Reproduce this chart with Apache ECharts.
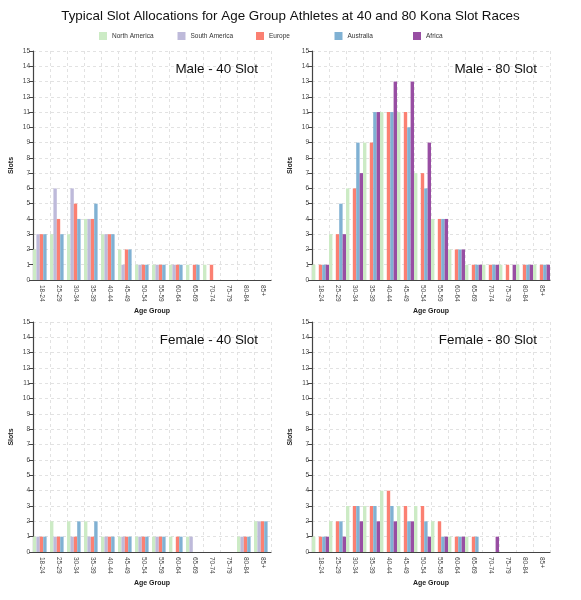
<!DOCTYPE html>
<html><head><meta charset="utf-8">
<script src="https://cdn.jsdelivr.net/npm/echarts@6/dist/echarts.min.js"></script>
<style>html,body{margin:0;padding:0;background:#fff}#c{width:581px;height:600px}</style>
</head><body><div id="c"></div><script>
const ageGroups = ['18-24','25-29','30-34','35-39','40-44','45-49','50-54','55-59','60-64','65-69','70-74','75-79','80-84','85+'];
const regions = ['North America','South America','Europe','Australia','Africa'];
const regionColors = ['#ccebc5','#bebada','#fb8072','#80b1d3','#984ea3'];
const panelTitles = ['Male - 40 Slot','Male - 80 Slot','Female - 40 Slot','Female - 80 Slot'];
const mainTitle = 'Typical Slot Allocations for Age Group Athletes at 40 and 80 Kona Slot Races';

const male40NorthAmerica = [2,3,3,4,3,2,1,1,1,1,1,0,0,0];
const male40SouthAmerica = [3,6,6,4,3,1,1,1,1,0,0,0,0,0];
const male40Europe       = [3,4,5,4,3,2,1,1,1,1,1,0,0,0];
const male40Australia    = [3,3,4,5,3,2,1,1,1,1,0,0,0,0];
const male40Africa       = [0,0,0,0,0,0,0,0,0,0,0,0,0,0];

const male80NorthAmerica = [1,3,6,9,11,11,7,4,2,1,1,1,1,1];
const male80SouthAmerica = [0,0,0,0,0,0,0,0,0,0,0,0,0,0];
const male80Europe       = [1,3,6,9,11,11,7,4,2,1,1,1,1,1];
const male80Australia    = [1,5,9,11,11,10,6,4,2,1,1,0,1,1];
const male80Africa       = [1,3,7,11,13,13,9,4,2,1,1,1,1,1];

const female40NorthAmerica = [1,2,2,2,1,1,1,1,1,1,0,0,1,2];
const female40SouthAmerica = [1,1,1,1,1,1,1,1,0,1,0,0,1,2];
const female40Europe       = [1,1,1,1,1,1,1,1,1,0,0,0,1,2];
const female40Australia    = [1,1,2,2,1,1,1,1,1,0,0,0,1,2];
const female40Africa       = [0,0,0,0,0,0,0,0,0,0,0,0,0,0];

const female80NorthAmerica = [1,2,3,3,4,3,3,2,1,1,0,0,0,0];
const female80SouthAmerica = [0,0,0,0,0,0,0,0,0,0,0,0,0,0];
const female80Europe       = [1,2,3,3,4,3,3,2,1,1,0,0,0,0];
const female80Australia    = [1,2,3,3,3,2,2,1,1,1,0,0,0,0];
const female80Africa       = [1,1,2,2,2,2,1,1,1,0,1,0,0,0];

const panelData = [
  [male40NorthAmerica, male40SouthAmerica, male40Europe, male40Australia, male40Africa],
  [male80NorthAmerica, male80SouthAmerica, male80Europe, male80Australia, male80Africa],
  [female40NorthAmerica, female40SouthAmerica, female40Europe, female40Australia, female40Africa],
  [female80NorthAmerica, female80SouthAmerica, female80Europe, female80Australia, female80Africa]
];

const FONT = 'Liberation Sans, Arial, Helvetica, sans-serif';
const grids = [
  {left: 33, width: 238, top: 51, height: 229},
  {left: 312, width: 238, top: 51, height: 229},
  {left: 33, width: 238, top: 322, height: 230},
  {left: 312, width: 238, top: 322, height: 230}
];
const titleRight = [318, 39, 318, 39];
const titleTop = [58, 58, 329, 329];

const chart = echarts.init(document.getElementById('c'), null, {renderer: 'canvas'});
const dash = {color: '#e2e2e2', type: [3, 3], width: 1};
const axisCol = '#444';

const option = {
  animation: false,
  backgroundColor: '#fff',
  title: [{text: mainTitle, left: 'center', top: 5, textStyle: {fontFamily: FONT, fontSize: 13.4, fontWeight: 'normal', color: '#111'}}]
    .concat(panelTitles.map((t, i) => ({text: t, right: titleRight[i], top: titleTop[i], textStyle: {fontFamily: FONT, fontSize: 13.4, fontWeight: 'normal', color: '#111'}}))),
  legend: regions.map((r, i) => ({
    data: [r], left: 94 + 78.5 * i, top: 27, itemWidth: 8, itemHeight: 8, icon: 'rect',
    textStyle: {fontFamily: FONT, fontSize: 6.5, color: '#333'}, itemGap: 5
  })),
  grid: grids.map(g => Object.assign({containLabel: false}, g)),
  xAxis: grids.map((g, i) => ({
    type: 'category', gridIndex: i, data: ageGroups,
    name: 'Age Group', nameLocation: 'middle', nameGap: 28,
    nameTextStyle: {fontFamily: FONT, fontSize: 7, fontWeight: 'bold', color: '#222'},
    axisLine: {lineStyle: {color: axisCol, width: 1.2}},
    axisTick: {alignWithLabel: true, length: 4, lineStyle: {color: axisCol}},
    axisLabel: {rotate: -90, fontFamily: FONT, fontSize: 6.5, color: '#444', margin: 5, interval: 0},
    splitLine: {show: true, lineStyle: dash}
  })),
  yAxis: grids.map((g, i) => ({
    type: 'value', gridIndex: i, min: 0, max: 15, interval: 1,
    name: 'Slots', nameLocation: 'middle', nameGap: 18, nameRotate: 90,
    nameTextStyle: {fontFamily: FONT, fontSize: 7, fontWeight: 'bold', color: '#222'},
    axisLine: {show: true, lineStyle: {color: axisCol, width: 1.2}},
    axisTick: {show: true, length: 4, lineStyle: {color: axisCol}},
    axisLabel: {fontFamily: FONT, fontSize: 6.5, color: '#444', margin: 3},
    splitLine: {show: true, lineStyle: dash}
  })),
  series: []
};

panelData.forEach((arrs, g) => {
  arrs.forEach((vals, r) => {
    option.series.push({
      type: 'bar', name: regions[r], xAxisIndex: g, yAxisIndex: g,
      data: vals, barGap: '0%', barCategoryGap: '0%',
      itemStyle: {color: regionColors[r]}
    });
  });
});

chart.setOption(option);
</script></body></html>
